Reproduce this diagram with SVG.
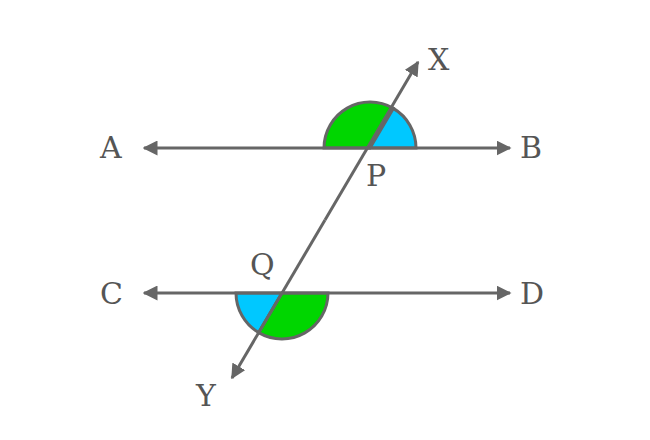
<svg xmlns="http://www.w3.org/2000/svg" width="650" height="440" viewBox="0 0 650 440">
<style>
.ln{stroke:#666;stroke-width:3;fill:none}
.g{fill:#00d600;stroke:#666;stroke-width:3}
.b{fill:#00c8ff;stroke:#666;stroke-width:3}
text{font-family:"DejaVu Serif","Liberation Serif",serif;font-size:30px;fill:#555}
</style>
<defs>
<marker id="ar" viewBox="0 0 10 10" refX="9" refY="5" markerWidth="5" markerHeight="5" orient="auto" markerUnits="strokeWidth">
<path d="M0,0 L10,5 L0,10 Z" fill="#666"/>
</marker>
</defs>
<rect width="650" height="440" fill="#fff"/>
<g id="angleP">
<path class="g" d="M370,148 L324,148 A46,46 0 0 1 393.3,108.4 Z"/>
<path class="b" d="M370,148 L393.3,108.4 A46,46 0 0 1 416,148 Z"/>
</g>
<g id="angleQ">
<path class="b" d="M282,293 L236,293 A46,46 0 0 0 258.7,332.6 Z"/>
<path class="g" d="M282,293 L258.7,332.6 A46,46 0 0 0 328,293 Z"/>
</g>
<g id="connectors">
<line class="ln" x1="370" y1="148" x2="144" y2="148" marker-end="url(#ar)"/>
<line class="ln" x1="370" y1="148" x2="510" y2="148" marker-end="url(#ar)"/>
<line class="ln" x1="282" y1="293" x2="144" y2="293" marker-end="url(#ar)"/>
<line class="ln" x1="282" y1="293" x2="510" y2="293" marker-end="url(#ar)"/>
<line class="ln" x1="325" y1="220" x2="418" y2="62" marker-end="url(#ar)"/>
<line class="ln" x1="325" y1="220" x2="232" y2="378" marker-end="url(#ar)"/>
</g>
<g id="labels">
<text x="100" y="158">A</text>
<text x="520" y="158">B</text>
<text x="100" y="304">C</text>
<text x="520" y="304">D</text>
<text x="428" y="70">X</text>
<text x="196" y="406">Y</text>
<text x="366" y="186">P</text>
<text x="250" y="275">Q</text>
</g>
</svg>
